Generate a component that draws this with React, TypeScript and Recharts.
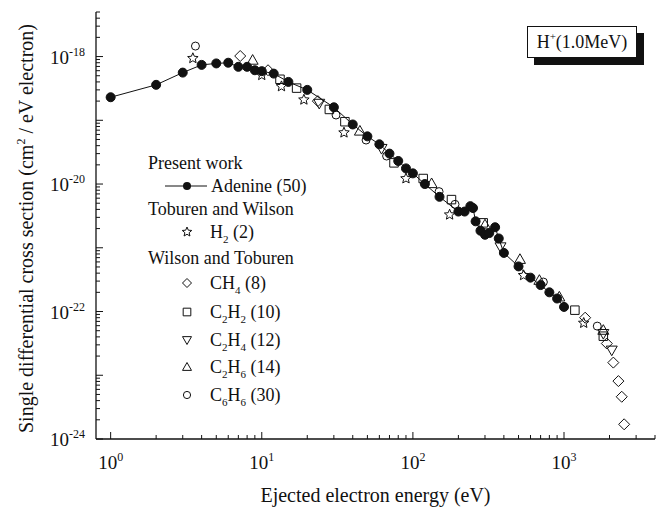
import { ScatterChart, Scatter, XAxis, YAxis, Legend } from "recharts"

// Ejected electron energy (eV) and SDCS (cm^2 / eV electron) per target
const adenineEnergy = [1, 2, 3, 4, 5, 6, 7, 8, 9, 10, 12, 15, 20, 30, 40, 50, 60, 70, 80, 90, 100, 120, 150, 200, 220, 240, 250, 260, 280, 300, 320, 350, 370, 400, 500, 600, 700, 800, 900, 1000]
const adenineSdcs = [2.3e-19, 3.6e-19, 5.6e-19, 7.4e-19, 7.8e-19, 8.0e-19, 6.9e-19, 6.9e-19, 6.1e-19, 5.9e-19, 5.4e-19, 4.0e-19, 3.0e-19, 1.6e-19, 8.6e-20, 5.6e-20, 4.2e-20, 3.0e-20, 2.3e-20, 1.76e-20, 1.47e-20, 1.0e-20, 6.3e-21, 3.7e-21, 3.7e-21, 4.5e-21, 4.2e-21, 2.6e-21, 1.85e-21, 1.6e-21, 1.7e-21, 2.1e-21, 1.4e-21, 8.3e-22, 5.1e-22, 3.4e-22, 2.6e-22, 2.0e-22, 1.6e-22, 1.18e-22]

const h2Energy = [3.5, 10, 13.5, 19, 35, 90, 175, 540, 1350]
const h2Sdcs = [9.4e-19, 5.1e-19, 3.4e-19, 2.1e-19, 6.4e-20, 1.22e-20, 3.3e-21, 3.7e-22, 6.6e-23]

const ch4Energy = [7.2, 11, 23.5, 1380, 1920, 2120, 2290, 2410, 2500]
const ch4Sdcs = [1.02e-18, 6.1e-19, 2.0e-19, 8.0e-23, 3.15e-23, 1.58e-23, 8.1e-24, 4.6e-24, 1.7e-24]

const c2h2Energy = [13.2, 17, 28, 35.5, 75, 117, 180, 292, 1180, 1820]
const c2h2Sdcs = [4.4e-19, 3.2e-19, 1.48e-19, 9.5e-20, 2.15e-20, 1.22e-20, 5.7e-21, 2.46e-21, 1.05e-22, 4.1e-23]

const c2h4Energy = [24, 62, 380, 1820, 2070]
const c2h4Sdcs = [1.84e-19, 3.6e-20, 1.03e-21, 4.5e-23, 2.47e-23]

const c2h6Energy = [8.7, 44.6, 133, 300, 511, 687, 931, 1820]
const c2h6Sdcs = [8.8e-19, 6.8e-20, 1.02e-20, 2.3e-21, 6.6e-22, 3.1e-22, 1.7e-22, 5.1e-23]

const c6h6Energy = [3.64, 31, 49, 67, 149, 190, 730, 1660]
const c6h6Sdcs = [1.46e-18, 1.21e-19, 4.9e-20, 2.75e-20, 7.6e-21, 4.8e-21, 2.9e-22, 5.9e-23]

const xTicks: number[] = []
for (let e = 0; e <= 3; e++) for (let m = 1; m <= 9; m++) if (m * 10 ** e <= 4000) xTicks.push(m * 10 ** e)
const yTicks: number[] = []
for (let e = -24; e <= -18; e++) for (let m = 1; m <= 9; m++) if (m * 10 ** e <= 5.01e-18) yTicks.push(m * Math.pow(10, e))

const FONT = '"Liberation Serif", "Times New Roman", serif'
const INK = "#111"

const toPoints = (xs: number[], ys: number[]) => xs.map((x, i) => ({ x, y: ys[i] }))

const isMajor = (v: number) => {
  const e = Math.log10(v)
  return Math.abs(e - Math.round(e)) < 1e-6
}

function markerPath(kind: string, cx: number, cy: number, s: number) {
  switch (kind) {
    case "diamond":
      return `M${cx},${cy - s}L${cx + s},${cy}L${cx},${cy + s}L${cx - s},${cy}Z`
    case "square":
      return `M${cx - s * 0.85},${cy - s * 0.85}h${s * 1.7}v${s * 1.7}h${-s * 1.7}Z`
    case "down":
      return `M${cx - s},${cy - s * 0.75}L${cx + s},${cy - s * 0.75}L${cx},${cy + s}Z`
    case "up":
      return `M${cx - s},${cy + s * 0.75}L${cx + s},${cy + s * 0.75}L${cx},${cy - s}Z`
    case "star": {
      let d = ""
      for (let i = 0; i < 10; i++) {
        const r = i % 2 === 0 ? s : s * 0.45
        const a = -Math.PI / 2 + (i * Math.PI) / 5
        d += `${i === 0 ? "M" : "L"}${cx + r * Math.cos(a)},${cy + r * Math.sin(a)}`
      }
      return d + "Z"
    }
    default:
      return ""
  }
}

function Marker({ kind, cx, cy, s }: { kind: string; cx: number; cy: number; s: number }) {
  if (kind === "circle") return <circle cx={cx} cy={cy} r={s * 0.8} fill="none" stroke={INK} strokeWidth={1} />
  if (kind === "filled") return <circle cx={cx} cy={cy} r={s} fill={INK} stroke={INK} />
  return <path d={markerPath(kind, cx, cy, s)} fill="none" stroke={INK} strokeWidth={1} />
}

const shapeOf = (kind: string, s: number) => (props: any) =>
  props.cx == null ? <g /> : <Marker kind={kind} cx={props.cx} cy={props.cy} s={s} />

function BottomTick(props: any) {
  const { x, y, payload } = props
  const major = isMajor(payload.value)
  return (
    <g>
      <line x1={x} x2={x} y1={y} y2={y - (major ? 7 : 4)} stroke={INK} />
      {major && (
        <text x={x} y={y + 30} textAnchor="middle" fontSize={19} fontFamily={FONT} fill={INK}>
          10<tspan dy={-8} fontSize={12}>{Math.round(Math.log10(payload.value))}</tspan>
        </text>
      )}
    </g>
  )
}

function TopTick(props: any) {
  const { x, y, payload } = props
  return <line x1={x} x2={x} y1={y} y2={y + (isMajor(payload.value) ? 7 : 4)} stroke={INK} />
}

function LeftTick(props: any) {
  const { x, y, payload } = props
  const major = isMajor(payload.value)
  const e = Math.round(Math.log10(payload.value))
  return (
    <g>
      <line x1={x} x2={x + (major ? 7 : 4)} y1={y} y2={y} stroke={INK} />
      {major && e % 2 === 0 && (
        <text x={x - 11} y={y + 7} textAnchor="end" fontSize={19} fontFamily={FONT} fill={INK}>
          10<tspan dy={-8} fontSize={12}>{e}</tspan>
        </text>
      )}
    </g>
  )
}

function RightTick(props: any) {
  const { x, y, payload } = props
  return <line x1={x} x2={x - (isMajor(payload.value) ? 7 : 4)} y1={y} y2={y} stroke={INK} />
}

const legendRows = [
  { kind: "star", label: "H", sub: "2", rest: " (2)", y: 232 },
  { kind: "diamond", label: "CH", sub: "4", rest: " (8)", y: 283 },
  { kind: "square", label: "C", sub: "2", label2: "H", sub2: "2", rest: " (10)", y: 312 },
  { kind: "down", label: "C", sub: "2", label2: "H", sub2: "4", rest: " (12)", y: 340 },
  { kind: "up", label: "C", sub: "2", label2: "H", sub2: "6", rest: " (14)", y: 367 },
  { kind: "circle", label: "C", sub: "6", label2: "H", sub2: "6", rest: " (30)", y: 395 },
]

function LegendBox() {
  const ox = 140
  const oy = 150
  return (
    <svg width={270} height={270} style={{ overflow: "visible" }}>
      <g transform={`translate(${-ox},${-oy})`} fontFamily={FONT} fontSize={18} fill={INK}>
        <text x={148} y={169}>Present work</text>
        <line x1={165} x2={207} y1={186} y2={186} stroke={INK} />
        <circle cx={187} cy={186} r={4} fill={INK} />
        <text x={211} y={192}>Adenine (50)</text>
        <text x={148} y={215}>Toburen and Wilson</text>
        <text x={148} y={264}>Wilson and Toburen</text>
        {legendRows.map((r) => (
          <g key={r.y}>
            <Marker kind={r.kind} cx={187} cy={r.y} s={r.kind === "star" ? 5 : 4.5} />
            <text x={210} y={r.y + 6}>
              {r.label}
              <tspan dy={5} fontSize={11}>{r.sub}</tspan>
              {r.label2 && (
                <>
                  <tspan dy={-5}>{r.label2}</tspan>
                  <tspan dy={5} fontSize={11}>{r.sub2}</tspan>
                </>
              )}
              <tspan dy={-5}>{r.rest}</tspan>
            </text>
          </g>
        ))}
      </g>
    </svg>
  )
}

export default function App() {
  return (
    <div style={{ position: "absolute", left: 0, top: 0, width: 665, height: 513, background: "#fff", fontFamily: FONT }}>
      <ScatterChart width={665} height={513} margin={{ top: 12, right: 10, bottom: 0, left: 0 }}>
        <XAxis
          dataKey="x"
          type="number"
          scale="log"
          domain={[0.8, 4000]}
          allowDataOverflow
          ticks={xTicks}
          interval={0}
          tickSize={0}
          tickMargin={0}
          tick={<BottomTick />}
          height={74}
          axisLine={{ stroke: INK, strokeWidth: 1.3 }}
          label={{
            content: (p: any) => (
              <text x={p.viewBox.x + p.viewBox.width / 2} y={p.viewBox.y + 63} textAnchor="middle" fontSize={20} fontFamily={FONT} fill={INK}>
                Ejected electron energy (eV)
              </text>
            ),
          }}
        />
        <XAxis
          xAxisId="top"
          orientation="top"
          dataKey="x"
          type="number"
          scale="log"
          domain={[0.8, 4000]}
          allowDataOverflow
          ticks={xTicks}
          interval={0}
          tickSize={0}
          tickMargin={0}
          tick={<TopTick />}
          height={0}
          axisLine={{ stroke: INK, strokeWidth: 1.3 }}
        />
        <YAxis
          dataKey="y"
          type="number"
          scale="log"
          domain={[1e-24, 5e-18]}
          allowDataOverflow
          ticks={yTicks}
          interval={0}
          tickSize={0}
          tickMargin={0}
          tick={<LeftTick />}
          width={96}
          axisLine={{ stroke: INK, strokeWidth: 1.3 }}
          label={{
            content: (p: any) => {
              const cx = p.viewBox.x + 33
              const cy = p.viewBox.y + p.viewBox.height / 2 + 3
              return (
                <text x={cx} y={cy} transform={`rotate(-90 ${cx} ${cy})`} textAnchor="middle" fontSize={20} fontFamily={FONT} fill={INK}>
                  Single differential cross section (cm<tspan dy={-8} fontSize={12}>2</tspan>
                  <tspan dy={8}> / eV electron)</tspan>
                </text>
              )
            },
          }}
        />
        <YAxis
          yAxisId="right"
          orientation="right"
          dataKey="y"
          type="number"
          scale="log"
          domain={[1e-24, 5e-18]}
          allowDataOverflow
          ticks={yTicks}
          interval={0}
          tickSize={0}
          tickMargin={0}
          tick={<RightTick />}
          width={0}
          axisLine={{ stroke: INK, strokeWidth: 1.3 }}
        />
        <Legend
          layout="vertical"
          align="center"
          verticalAlign="middle"
          content={() => <LegendBox />}
          wrapperStyle={{ left: 140, top: 150, width: 270, height: 270 }}
        />
        <Scatter name="H2 (2)" data={toPoints(h2Energy, h2Sdcs)} shape={shapeOf("star", 5.5)} isAnimationActive={false} />
        <Scatter name="CH4 (8)" data={toPoints(ch4Energy, ch4Sdcs)} shape={shapeOf("diamond", 5.5)} isAnimationActive={false} />
        <Scatter name="C2H2 (10)" data={toPoints(c2h2Energy, c2h2Sdcs)} shape={shapeOf("square", 5)} isAnimationActive={false} />
        <Scatter name="C2H4 (12)" data={toPoints(c2h4Energy, c2h4Sdcs)} shape={shapeOf("down", 5.5)} isAnimationActive={false} />
        <Scatter name="C2H6 (14)" data={toPoints(c2h6Energy, c2h6Sdcs)} shape={shapeOf("up", 5.5)} isAnimationActive={false} />
        <Scatter name="C6H6 (30)" data={toPoints(c6h6Energy, c6h6Sdcs)} shape={shapeOf("circle", 5)} isAnimationActive={false} />
        <Scatter
          name="Adenine (50)"
          data={toPoints(adenineEnergy, adenineSdcs)}
          line={{ stroke: INK, strokeWidth: 1 }}
          shape={shapeOf("filled", 4.5)}
          isAnimationActive={false}
        />
      </ScatterChart>
      <div
        style={{
          position: "absolute",
          left: 527,
          top: 26,
          width: 108,
          height: 30,
          border: `1px solid ${INK}`,
          background: "#fff",
          boxShadow: `7px 7px 0 ${INK}`,
          fontSize: 18,
          lineHeight: "31px",
          textAlign: "center",
          color: INK,
        }}
      >
        H<sup style={{ fontSize: 11, verticalAlign: 8, lineHeight: 0 }}>+</sup>(1.0MeV)
      </div>
    </div>
  )
}
